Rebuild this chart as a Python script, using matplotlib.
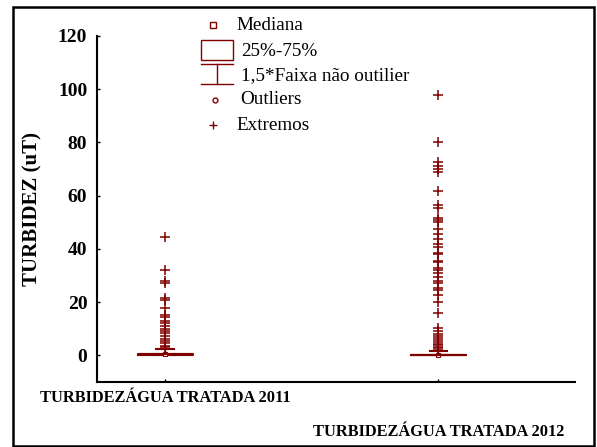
import numpy as np
import matplotlib
matplotlib.use('Agg')
import matplotlib.pyplot as plt
from matplotlib.patches import Rectangle

plt.rcParams['font.family'] = ['Liberation Serif', 'DejaVu Serif']

categories = ['TURBIDEZÁGUA TRATADA 2011', 'TURBIDEZÁGUA TRATADA 2012']
medians = [0.4, 0.2]
q1 = [0.3, 0.1]
q3 = [0.5, 0.3]
whis_lo = [0.0, 0.0]
whis_hi = [2.5, 1.6]

extremes_2011 = [44.6, 32.1, 28.0, 27.1, 21.5, 20.8, 17.7, 15.2, 14.5, 12.9,
                 12.1, 11.0, 10.1, 9.2, 8.3, 7.3, 6.3, 5.4, 4.5, 3.5, 3.0]
extremes_2012 = [97.9, 80.0, 72.5, 71.2, 70.0, 68.9, 61.8, 56.5, 55.5, 51.5,
                 50.8, 50.0, 47.6, 45.5, 43.7, 41.8, 40.9, 38.6, 38.0, 35.5,
                 34.9, 33.0, 32.1, 31.1, 29.6, 28.0, 27.1, 25.5, 24.5, 22.6,
                 20.1, 15.8, 10.4, 9.2, 8.0, 7.2, 6.5, 5.8, 5.1, 4.4, 3.8,
                 3.2, 2.6, 2.0]
extremes = [extremes_2011, extremes_2012]

yticks = [0, 20, 40, 60, 80, 100, 120]

red = '#800000'
pos = [1, 2]

fig = plt.figure(figsize=(5.97, 4.47), dpi=100)
ax = fig.add_axes([97 / 597, 65 / 447, 478 / 597, 346 / 447])

stats = []
for i in range(2):
    stats.append({'med': medians[i], 'q1': q1[i], 'q3': q3[i],
                  'whislo': whis_lo[i], 'whishi': whis_hi[i], 'fliers': []})

ax.bxp(stats, positions=pos, widths=0.2, showfliers=False,
       boxprops=dict(color=red, lw=1.5),
       whiskerprops=dict(color=red, lw=1),
       capprops=dict(color=red, lw=1.5),
       medianprops=dict(color=red, lw=1.5),
       capwidths=0.065, manage_ticks=False)

for i in range(2):
    ax.plot([pos[i]] * len(extremes[i]), extremes[i], ls='none', marker='+',
            ms=6.5, mew=1.1, color=red)
    ax.plot(pos[i], medians[i], ls='none', marker='s', ms=3.5, mfc='white',
            mec=red, mew=0.8)

ax.set_xlim(0.75, 2.5)
ax.set_ylim(-10, 120)
ax.set_yticks(yticks)
ax.set_yticklabels([str(v) for v in yticks], fontweight='bold', fontsize=14)
ax.set_xticks(pos)
ax.set_xticklabels(categories, fontweight='bold', fontsize=11.8)
ax.tick_params(axis='both', direction='in', length=2, width=1)
ax.tick_params(axis='y', pad=7)
xt = ax.xaxis.get_major_ticks()
xt[0].set_pad(6)
xt[1].set_pad(30)

ax.set_ylabel('TURBIDEZ (uT)', fontweight='bold', fontsize=15)
ax.yaxis.set_label_coords(-0.115, 0.5)

for s in ['top', 'right']:
    ax.spines[s].set_visible(False)
for s in ['left', 'bottom']:
    ax.spines[s].set_linewidth(1.5)

# outer frame
fig.patches.append(Rectangle((13 / 597, 1 - 446 / 447), 581 / 597, 439 / 447,
                             transform=fig.transFigure, fill=False,
                             ec='black', lw=1.8))

# legend (Statistica style), drawn in pixel-based figure coords
lg = fig.add_axes([0, 0, 1, 1], zorder=5)
lg.set_xlim(0, 597)
lg.set_ylim(447, 0)
lg.axis('off')
lg.plot(213, 25, ls='none', marker='s', ms=4, mfc='white', mec=red, mew=1)
lg.add_patch(Rectangle((201, 40), 32, 19.5, fill=False, ec=red, lw=1))
lg.plot([201, 233], [64, 64], color=red, lw=1)
lg.plot([201, 233], [84, 84], color=red, lw=1)
lg.plot([217, 217], [64, 84], color=red, lw=1)
lg.plot(215, 100, ls='none', marker='o', ms=3.5, mfc='white', mec=red, mew=1)
lg.plot(213, 125, ls='none', marker='+', ms=6, mew=1, color=red)
legend_labels = ['Mediana', '25%-75%', '1,5*Faixa não outilier', 'Outliers', 'Extremos']
legend_x = [236, 241, 241, 240, 236]
legend_y = [25, 51, 76, 100, 125]
for t, x, y in zip(legend_labels, legend_x, legend_y):
    lg.text(x, y, t, fontsize=13.8, va='center', ha='left')

fig.savefig('out.png', dpi=100)
